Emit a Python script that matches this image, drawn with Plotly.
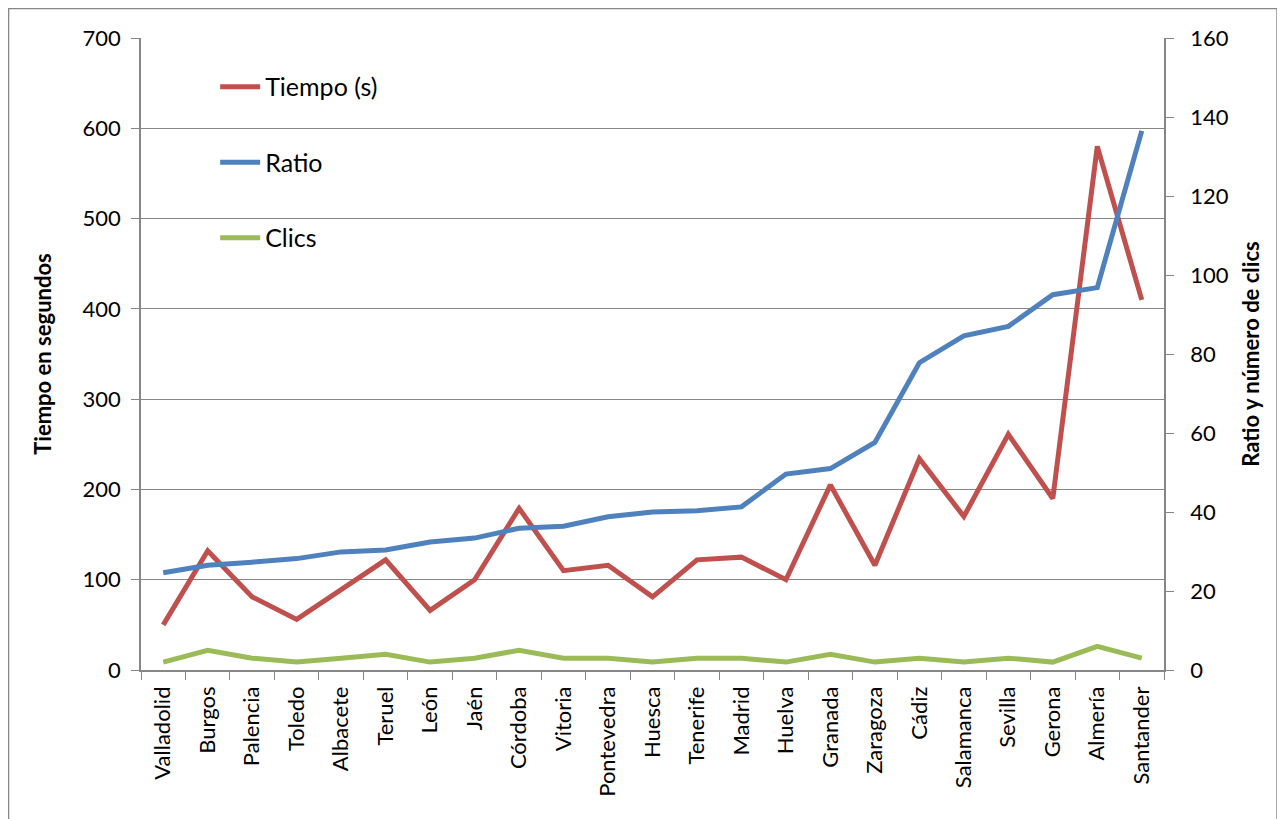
import plotly.graph_objects as go

ciudades = ["Valladolid", "Burgos", "Palencia", "Toledo", "Albacete", "Teruel", "León",
            "Jaén", "Córdoba", "Vitoria", "Pontevedra", "Huesca", "Tenerife", "Madrid",
            "Huelva", "Granada", "Zaragoza", "Cádiz", "Salamanca", "Sevilla", "Gerona",
            "Almería", "Santander"]
tiempo = [50, 132, 81, 56, 89, 122, 66, 100, 179, 110, 116, 81, 122, 125, 100, 205,
          116, 234, 170, 261, 190, 580, 410]
ratio = [24.6, 26.5, 27.3, 28.2, 29.9, 30.4, 32.4, 33.4, 35.9, 36.4, 38.8, 40.0, 40.3,
         41.3, 49.6, 51.0, 57.6, 77.8, 84.6, 87.0, 95.0, 96.8, 136.5]
clics = [2, 5, 3, 2, 3, 4, 2, 3, 5, 3, 3, 2, 3, 3, 2, 4, 2, 3, 2, 3, 2, 6, 3]

FONT = "Lato, 'Open Sans', sans-serif"
GRIS = "#868686"

fig = go.Figure()
fig.add_trace(go.Scatter(x=ciudades, y=tiempo, mode="lines", name="Tiempo (s)",
                         line=dict(color="#C0504D", width=5), legendgroup="a"))
fig.add_trace(go.Scatter(x=ciudades, y=ratio, mode="lines", name="Ratio", yaxis="y2",
                         line=dict(color="#4F81BD", width=5), legendgroup="b"))
fig.add_trace(go.Scatter(x=ciudades, y=clics, mode="lines", name="Clics", yaxis="y2",
                         line=dict(color="#9BBB59", width=5), legendgroup="c"))

# marco exterior del gráfico
fig.add_shape(type="rect", xref="paper", yref="paper",
              x0=-0.1295, x1=1.1105, y0=-0.3, y1=1.0467,
              line=dict(color=GRIS, width=1.5), fillcolor="rgba(0,0,0,0)", layer="below")

fig.update_layout(
    width=1285, height=819,
    paper_bgcolor="white", plot_bgcolor="white",
    font=dict(family=FONT, color="black", size=22),
    margin=dict(l=133, r=129, t=30, b=157),
    showlegend=True,
    legend=dict(x=0.0725, y=0.959, xanchor="left", yanchor="top",
                bgcolor="rgba(0,0,0,0)", font=dict(size=25),
                tracegroupgap=40, itemwidth=40),
    xaxis=dict(
        type="category", tickangle=-90, tickfont=dict(size=22), automargin=False,
        ticklabelstandoff=6,
        showline=True, linecolor=GRIS, linewidth=1.5,
        ticks="outside", tickson="boundaries", ticklen=8, tickcolor=GRIS,
        showgrid=False, range=[-0.5, 22.5],
    ),
    yaxis=dict(
        range=[0, 700], dtick=100, automargin=False, ticklabelstandoff=6,
        title=dict(text="<b>Tiempo en segundos</b>", font=dict(size=22), standoff=25),
        showline=True, linecolor=GRIS, linewidth=1.5,
        ticks="outside", ticklen=8, tickcolor=GRIS,
        showgrid=True, gridcolor=GRIS, gridwidth=1.2, zeroline=False,
    ),
    yaxis2=dict(
        range=[0, 160], dtick=20, overlaying="y", side="right", automargin=False,
        ticklabelstandoff=12,
        title=dict(text="<b>Ratio y número de clics</b>", font=dict(size=22), standoff=16),
        showline=True, linecolor=GRIS, linewidth=1.5,
        ticks="outside", ticklen=8, tickcolor=GRIS,
        showgrid=False, zeroline=False,
    ),
)

fig.write_html("out.html")
